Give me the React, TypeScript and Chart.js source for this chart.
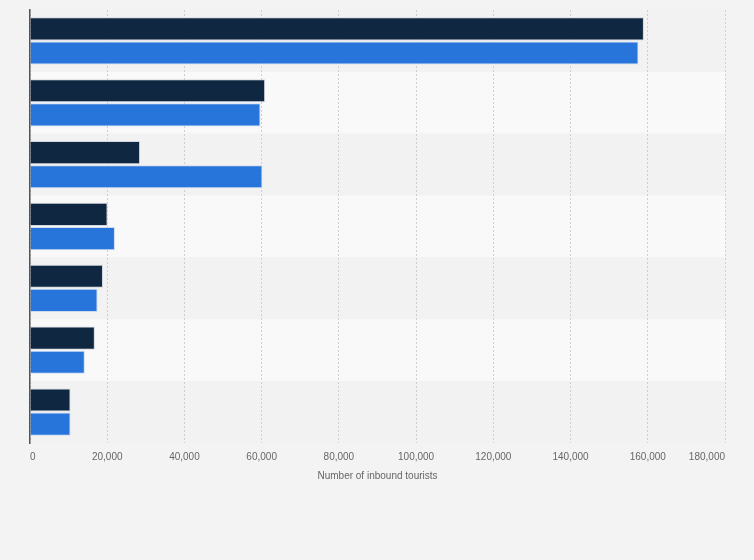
import React, { useEffect, useRef } from "react";
import { Chart, registerables } from "chart.js";

Chart.register(...registerables);

const categories = ["Category 1", "Category 2", "Category 3", "Category 4", "Category 5", "Category 6", "Category 7"];
const seriesDark = [159000, 60900, 28500, 20100, 18900, 16800, 10500];
const seriesBlue = [157600, 59700, 60200, 22000, 17500, 14200, 10500];
const axisTitle = "Number of inbound tourists";

const bandPlugin = {
  id: "bands",
  beforeDraw(chart: any) {
    const { ctx, chartArea } = chart;
    ctx.save();
    ctx.fillStyle = "#f3f3f3";
    ctx.fillRect(0, 0, chart.width, chart.height);
    const n = categories.length;
    const step = (chartArea.bottom - chartArea.top) / n;
    for (let i = 0; i < n; i++) {
      ctx.fillStyle = i % 2 === 0 ? "#f2f2f2" : "#f9f9f9";
      ctx.fillRect(chartArea.left, chartArea.top + i * step, chartArea.right - chartArea.left, step);
    }
    ctx.restore();
  },
};

export default function App() {
  const ref = useRef<HTMLCanvasElement>(null);
  useEffect(() => {
    document.body.style.margin = "0";
    const chart = new Chart(ref.current!, {
      type: "bar",
      data: {
        labels: categories,
        datasets: [
          {
            label: "Series A",
            data: seriesDark,
            backgroundColor: "#0f2740",
            borderColor: "rgba(200,205,215,0.8)",
            borderWidth: 1,
            categoryPercentage: 0.78,
            barPercentage: 0.96,
          },
          {
            label: "Series B",
            data: seriesBlue,
            backgroundColor: "#2775db",
            borderColor: "rgba(200,215,240,0.9)",
            borderWidth: 1,
            categoryPercentage: 0.78,
            barPercentage: 0.96,
          },
        ],
      },
      options: {
        indexAxis: "y",
        animation: false,
        responsive: false,
        maintainAspectRatio: false,
        layout: { padding: { left: 30, right: 29, top: 10, bottom: 78 } },
        plugins: { legend: { display: false }, tooltip: { enabled: false } },
        scales: {
          x: {
            min: 0,
            max: 180000,
            ticks: {
              stepSize: 20000,
              align: "inner",
              padding: 8,
              color: "#666",
              font: { family: "Liberation Sans", size: 10 },
              callback: (v: any) => Number(v).toLocaleString("en-US"),
            },
            grid: { color: "#cfcfcf", lineWidth: 1, drawTicks: false },
            border: { display: false, dash: [2, 2] },
            title: {
              display: true,
              text: axisTitle,
              color: "#666",
              font: { family: "Liberation Sans", size: 10 },
              padding: { top: -1, bottom: 0 },
            },
          },
          y: {
            ticks: { display: false },
            grid: { display: false, drawTicks: false },
            border: { display: true, color: "#555", width: 1.5 },
          },
        },
      },
      plugins: [bandPlugin],
    } as any);
    return () => chart.destroy();
  }, []);
  return (
    <div style={{ width: 754, height: 560 }}>
      <canvas ref={ref} width={754} height={560} style={{ width: 754, height: 560, display: "block" }} />
    </div>
  );
}
